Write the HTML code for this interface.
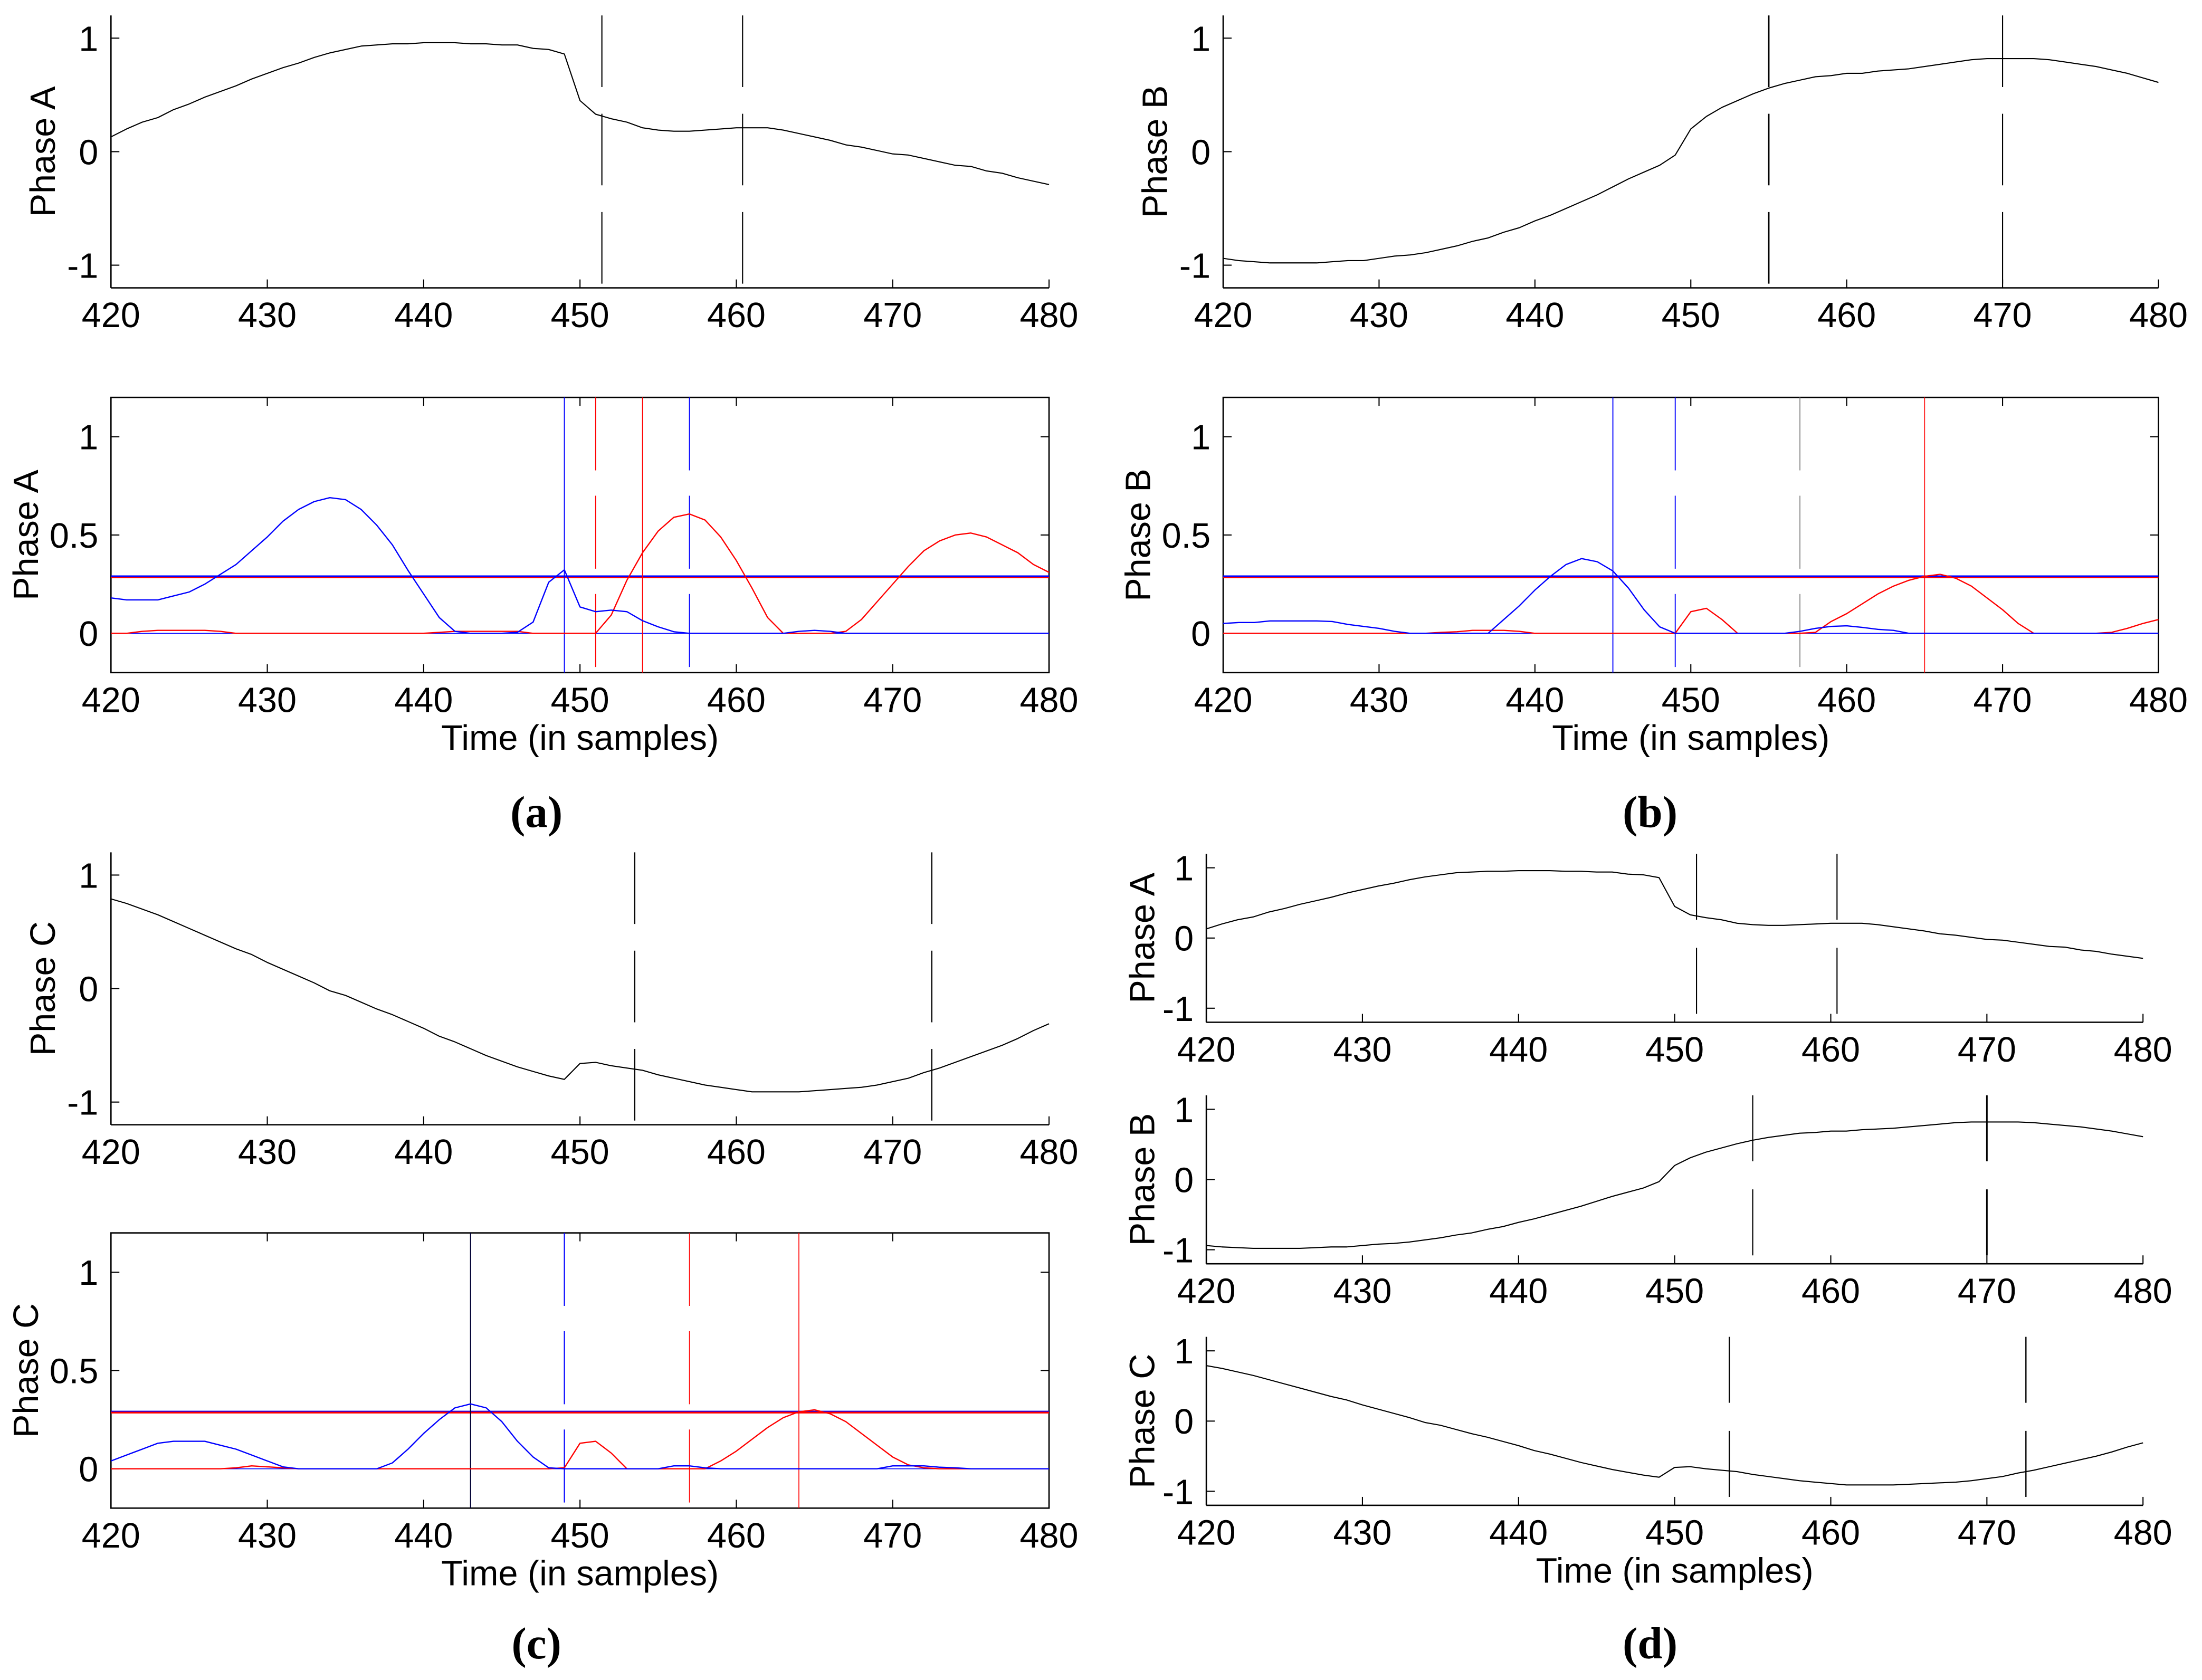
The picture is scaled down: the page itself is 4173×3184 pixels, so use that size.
<!DOCTYPE html>
<html><head><meta charset="utf-8"><style>
html,body{margin:0;padding:0;background:#fff;}
svg{display:block;}
</style></head><body>
<svg id="fig" xmlns="http://www.w3.org/2000/svg" width="4173" height="3184" viewBox="0 0 1568 1196.4" font-family="Liberation Sans, Arial, sans-serif"></svg>
<script>
const times = [];
for (let t = 420; t <= 480; t++) times.push(t);
const xTicks = [420,430,440,450,460,470,480];
const yTicksTop = [-1,0,1];
const yTicksBot = [0,0.5,1];
const phaseA = [0.13,0.2,0.26,0.3,0.37,0.42,0.48,0.53,0.58,0.64, 0.69,0.74,0.78,0.83,0.87,0.9,0.93,0.94,0.95,0.95, 0.96,0.96,0.96,0.95,0.95,0.94,0.94,0.91,0.9,0.86, 0.45,0.33,0.29,0.26,0.21,0.19,0.18,0.18,0.19,0.2, 0.21,0.21,0.21,0.19,0.16,0.13,0.1,0.06,0.04,0.01, -0.02,-0.03,-0.06,-0.09,-0.12,-0.13,-0.17,-0.19,-0.23,-0.26,-0.29];
const phaseB = [-0.94,-0.96,-0.97,-0.98,-0.98,-0.98,-0.98,-0.97,-0.96,-0.96, -0.94,-0.92,-0.91,-0.89,-0.86,-0.83,-0.79,-0.76,-0.71,-0.67, -0.61,-0.56,-0.5,-0.44,-0.38,-0.31,-0.24,-0.18,-0.12,-0.03, 0.2,0.31,0.39,0.45,0.51,0.56,0.6,0.63,0.66,0.67, 0.69,0.69,0.71,0.72,0.73,0.75,0.77,0.79,0.81,0.82, 0.82,0.82,0.82,0.81,0.79,0.77,0.75,0.72,0.69,0.65,0.61];
const phaseC = [0.79,0.75,0.7,0.65,0.59,0.53,0.47,0.41,0.35,0.3, 0.23,0.17,0.11,0.05,-0.02,-0.06,-0.12,-0.18,-0.23,-0.29, -0.35,-0.42,-0.47,-0.53,-0.59,-0.64,-0.69,-0.73,-0.77,-0.8, -0.66,-0.65,-0.68,-0.7,-0.72,-0.76,-0.79,-0.82,-0.85,-0.87, -0.89,-0.91,-0.91,-0.91,-0.91,-0.9,-0.89,-0.88,-0.87,-0.85, -0.82,-0.79,-0.74,-0.7,-0.65,-0.6,-0.55,-0.5,-0.44,-0.37,-0.31];
const aBlue = [0.18,0.17,0.17,0.17,0.19,0.21,0.25,0.3,0.35,0.42, 0.49,0.57,0.63,0.67,0.69,0.68,0.63,0.55,0.45,0.32, 0.2,0.08,0.01,0,0,0,0.005,0.057,0.26,0.323, 0.134,0.11,0.118,0.11,0.064,0.033,0.008,0,0,0, 0,0,0,0,0.01,0.015,0.01,0,0,0, 0,0,0,0,0,0,0,0,0,0,0];
const aRed = [0,0,0.01,0.015,0.015,0.015,0.015,0.01,0,0, 0,0,0,0,0,0,0,0,0,0, 0,0.005,0.01,0.01,0.01,0.01,0.01,0,0,0, 0,0,0.093,0.27,0.41,0.52,0.59,0.607,0.576,0.49, 0.37,0.23,0.08,0,0,0,0,0.01,0.07,0.16, 0.25,0.34,0.42,0.47,0.5,0.51,0.49,0.45,0.41,0.35,0.31];
const bBlue = [0.05,0.055,0.055,0.063,0.063,0.063,0.063,0.06,0.045,0.035, 0.025,0.01,0,0,0,0,0,0,0.07,0.14, 0.22,0.29,0.35,0.38,0.364,0.317,0.23,0.12,0.033,0, 0,0,0,0,0,0,0,0.01,0.025,0.035, 0.038,0.03,0.02,0.015,0,0,0,0,0,0, 0,0,0,0,0,0,0,0,0,0,0];
const bRed = [0,0,0,0,0,0,0,0,0,0, 0,0,0,0,0.005,0.008,0.015,0.015,0.015,0.01, 0,0,0,0,0,0,0,0,0,0, 0.11,0.127,0.07,0,0,0,0,0,0.005,0.06, 0.1,0.15,0.2,0.24,0.27,0.29,0.3,0.28,0.24,0.18, 0.12,0.05,0,0,0,0,0,0.005,0.025,0.05,0.07];
const cBlue = [0.04,0.07,0.1,0.13,0.14,0.14,0.14,0.12,0.1,0.07, 0.04,0.01,0,0,0,0,0,0,0.03,0.1, 0.18,0.25,0.31,0.33,0.31,0.24,0.14,0.06,0.005,0, 0,0,0,0,0,0,0.015,0.015,0.005,0, 0,0,0,0,0,0,0,0,0,0, 0.015,0.015,0.015,0.008,0.005,0,0,0,0,0,0];
const cRed = [0,0,0,0,0,0,0,0,0.005,0.015, 0.01,0.005,0,0,0,0,0,0,0,0, 0,0,0,0,0,0,0,0,0,0.005, 0.13,0.14,0.08,0,0,0,0,0,0,0.04, 0.09,0.15,0.21,0.26,0.29,0.3,0.28,0.24,0.18,0.12, 0.06,0.02,0.005,0,0,0,0,0,0,0,0];
const thresholdBlue = [0.29, 0.29, 0.293];
const thresholdRed = [0.283, 0.283, 0.286];
const markersA = [451.4, 460.4];
const markersB = [455, 470];
const markersC = [453.5, 472.5];
const aBlueMarks = [449, 457];
const aRedMarks = [451, 454];
const bBlueMarks = [445, 449];
const bGrayMarks = [457];
const bRedMarks = [465];
const cBlueMarks = [443, 449];
const cRedMarks = [457, 464];

const NS = 'http://www.w3.org/2000/svg';
const svg = document.getElementById('fig');
function mk(parent, tag, attrs, name) {
  const el = document.createElementNS(NS, tag);
  for (const k in attrs) el.setAttribute(k, attrs[k]);
  
  
  parent.appendChild(el);
  return el;
}
function axes(p) {
  const g = mk(svg, 'g', {}, p.name);
  p.g = g;
  p.sx = v => p.x0 + (v - 420) / 60 * (p.x1 - p.x0);
  p.sy = v => p.yb - (v - p.ymin) / (p.ymax - p.ymin) * (p.yb - p.yt);
  const tl = 6;
  if (p.box) {
    mk(g, 'rect', {x:p.x0, y:p.yt, width:p.x1-p.x0, height:p.yb-p.yt, fill:'none', stroke:'#000', 'stroke-width':1}, 'axes-box');
  } else {
    mk(g, 'line', {x1:p.x0, y1:p.yt, x2:p.x0, y2:p.yb, stroke:'#000', 'stroke-width':1}, 'y-axis-line');
    mk(g, 'line', {x1:p.x0, y1:p.yb, x2:p.x1, y2:p.yb, stroke:'#000', 'stroke-width':1}, 'x-axis-line');
  }
  xTicks.forEach(t => {
    const x = p.sx(t);
    mk(g, 'line', {x1:x, y1:p.yb, x2:x, y2:p.yb - tl, stroke:'#000', 'stroke-width':0.8}, 'x-tick');
    if (p.box) mk(g, 'line', {x1:x, y1:p.yt, x2:x, y2:p.yt + tl, stroke:'#000', 'stroke-width':0.8}, 'x-tick-top');
    const tx = mk(g, 'text', {x:x, y:p.yb + 28, 'text-anchor':'middle', 'font-size':25}, 'x-tick-label');
    tx.textContent = t;
  });
  p.yticks.forEach(t => {
    const y = p.sy(t);
    mk(g, 'line', {x1:p.x0, y1:y, x2:p.x0 + tl, y2:y, stroke:'#000', 'stroke-width':0.8}, 'y-tick');
    if (p.box) mk(g, 'line', {x1:p.x1, y1:y, x2:p.x1 - tl, y2:y, stroke:'#000', 'stroke-width':0.8}, 'y-tick-right');
    const ty = mk(g, 'text', {x:p.x0 - 9, y:y + 9, 'text-anchor':'end', 'font-size':25}, 'y-tick-label');
    ty.textContent = t;
  });
  const lx = p.lx, ly = (p.yt + p.yb) / 2;
  const yl = mk(g, 'text', {x:lx, y:ly, 'text-anchor':'middle', 'font-size':25, transform:'rotate(-90 ' + lx + ' ' + ly + ')'}, 'y-axis-title');
  yl.textContent = p.ylabel;
  if (p.xlabel) {
    const xl = mk(g, 'text', {x:(p.x0 + p.x1) / 2, y:p.yb + 55, 'text-anchor':'middle', 'font-size':25}, 'x-axis-title');
    xl.textContent = 'Time (in samples)';
  }
}
function series(p, vals, color, w, name) {
  const pts = vals.map((v, i) => p.sx(times[i]).toFixed(2) + ',' + p.sy(v).toFixed(2)).join(' ');
  mk(p.g, 'polyline', {points:pts, fill:'none', stroke:color, 'stroke-width':w, 'stroke-linejoin':'round'}, name);
}
function vline(p, t, color, w, dashed, name) {
  const x = p.sx(t);
  const a = {x1:x, y1:p.yt, x2:x, y2:p.yb, stroke:color, 'stroke-width':w};
  if (dashed) a['stroke-dasharray'] = p.dash;
  mk(p.g, 'line', a, name);
}
function hline(p, v, color, w, name) {
  const y = p.sy(v);
  mk(p.g, 'line', {x1:p.x0, y1:y, x2:p.x1, y2:y, stroke:color, 'stroke-width':w}, name);
}
function label(x, y, s) {
  const t = mk(svg, 'text', {x:x, y:y, 'text-anchor':'middle', 'font-size':32, 'font-weight':'bold', 'font-family':'Liberation Serif, serif'}, 'subfigure-label');
  t.textContent = s;
}

const L = 79, R = 747, L2 = 871, R2 = 1537, L3 = 859, R3 = 1526;
const topDef = (name, x0, x1, yt, yb, lbl, lx) => ({name, x0, x1, yt, yb, ymin:-1.2, ymax:1.2, yticks:yTicksTop, ylabel:lbl, lx, box:false, dash:'51 19'});
const botDef = (name, x0, x1, yt, yb, lbl, lx) => ({name, x0, x1, yt, yb, ymin:-0.2, ymax:1.2, yticks:yTicksBot, ylabel:lbl, lx, box:true, xlabel:true, dash:'52 18'});

// (a)
const aT = topDef('panel-a-top', L, R, 11, 205, 'Phase A', 39);
axes(aT);
markersA.forEach(t => vline(aT, t, '#000', 0.8, true, 'event-marker'));
series(aT, phaseA, '#000', 0.8, 'phase-a-signal');
const aB = botDef('panel-a-bottom', L, R, 283, 479, 'Phase A', 27);
axes(aB);
hline(aB, 0, '#00f', 0.6, 'zero-line');
hline(aB, thresholdBlue[0], '#00f', 1.3, 'threshold-blue');
hline(aB, thresholdRed[0], '#f00', 0.7, 'threshold-red');
aRedMarks.forEach((t, i) => vline(aB, t, '#f00', 0.7, i === 0, 'red-marker'));
aBlueMarks.forEach((t, i) => vline(aB, t, '#00f', 0.7, i === 1, 'blue-marker'));
series(aB, aRed, '#f00', 0.9, 'red-series');
series(aB, aBlue, '#00f', 0.9, 'blue-series');
label(382, 589, '(a)');

// (b)
const bT = topDef('panel-b-top', L2, R2, 11, 205, 'Phase B', 831);
axes(bT);
markersB.forEach((t, i) => vline(bT, t, '#000', i === 0 ? 1.1 : 0.8, true, 'event-marker'));
series(bT, phaseB, '#000', 0.8, 'phase-b-signal');
const bB = botDef('panel-b-bottom', L2, R2, 283, 479, 'Phase B', 819);
axes(bB);
hline(bB, 0, '#00f', 0.6, 'zero-line');
hline(bB, thresholdBlue[1], '#00f', 1.3, 'threshold-blue');
hline(bB, thresholdRed[1], '#f00', 0.7, 'threshold-red');
bBlueMarks.forEach((t, i) => vline(bB, t, '#00f', 0.7, i === 1, 'blue-marker'));
bGrayMarks.forEach(t => vline(bB, t, '#777', 0.6, true, 'gray-marker'));
bRedMarks.forEach(t => vline(bB, t, '#f00', 0.6, false, 'red-marker'));
series(bB, bRed, '#f00', 0.9, 'red-series');
series(bB, bBlue, '#00f', 0.9, 'blue-series');
label(1175, 589, '(b)');

// (c)
const cT = topDef('panel-c-top', L, R, 607, 801, 'Phase C', 39);
axes(cT);
markersC.forEach(t => vline(cT, t, '#000', 0.9, true, 'event-marker'));
series(cT, phaseC, '#000', 0.8, 'phase-c-signal');
const cB = botDef('panel-c-bottom', L, R, 878, 1074, 'Phase C', 27);
axes(cB);
hline(cB, 0, '#00f', 0.6, 'zero-line');
hline(cB, thresholdBlue[2], '#00f', 0.7, 'threshold-blue');
hline(cB, thresholdRed[2], '#f00', 1.3, 'threshold-red');
cBlueMarks.forEach((t, i) => vline(cB, t, i === 0 ? '#003' : '#00f', 0.8, i === 1, 'blue-marker'));
cRedMarks.forEach((t, i) => vline(cB, t, '#f00', 0.6, i === 0, 'red-marker'));
series(cB, cRed, '#f00', 0.9, 'red-series');
series(cB, cBlue, '#00f', 0.9, 'blue-series');
label(382, 1181, '(c)');

// (d)
const d1 = topDef('panel-d-phase-a', L3, R3, 608, 728, 'Phase A', 822);
d1.dash = '47 20';
axes(d1);
markersA.forEach(t => vline(d1, t, '#000', 0.8, true, 'event-marker'));
series(d1, phaseA, '#000', 0.8, 'phase-a-signal');
const d2 = topDef('panel-d-phase-b', L3, R3, 780, 900, 'Phase B', 822);
d2.dash = '47 20';
axes(d2);
markersB.forEach((t, i) => vline(d2, t, '#000', i === 1 ? 1.1 : 0.8, true, 'event-marker'));
series(d2, phaseB, '#000', 0.8, 'phase-b-signal');
const d3 = topDef('panel-d-phase-c', L3, R3, 952, 1072, 'Phase C', 822);
d3.dash = '47 20';
d3.xlabel = true;
axes(d3);
markersC.forEach(t => vline(d3, t, '#000', 0.9, true, 'event-marker'));
series(d3, phaseC, '#000', 0.8, 'phase-c-signal');
label(1175, 1181, '(d)');
</script>
</body></html>
